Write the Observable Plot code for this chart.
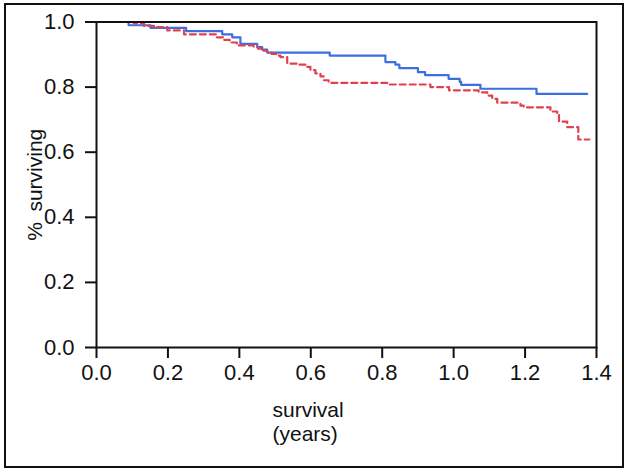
<!DOCTYPE html>
<html>
<head>
<meta charset="utf-8">
<script src="https://cdn.jsdelivr.net/npm/d3@7"></script>
<script src="https://cdn.jsdelivr.net/npm/@observablehq/plot@0.6"></script>
<style>
  html, body { margin: 0; padding: 0; background: #fff; }
  #wrap { position: relative; width: 629px; height: 473px; }
  #border { position: absolute; left: 4px; top: 3px; width: 620px; height: 465px; box-sizing: border-box; border: 2px solid #111; pointer-events: none; }
  #chart svg { display: block; }
</style>
</head>
<body>
<div id="wrap"><div id="chart"></div><div id="border"></div></div>
<script>
// Kaplan-Meier style survival curves
const blueTimes = [0.086, 0.090, 0.151, 0.251, 0.352, 0.380, 0.403, 0.450, 0.464, 0.478, 0.653, 0.809, 0.837, 0.848, 0.900, 0.920, 0.986, 1.017, 1.021, 1.075, 1.232, 1.374];
const blueSurv  = [1.0, 0.990, 0.982, 0.972, 0.962, 0.953, 0.933, 0.923, 0.915, 0.906, 0.897, 0.877, 0.869, 0.858, 0.846, 0.837, 0.825, 0.816, 0.807, 0.795, 0.779, 0.779];

const redTimes = [0.100, 0.104, 0.133, 0.161, 0.198, 0.245, 0.337, 0.355, 0.373, 0.393, 0.440, 0.452, 0.465, 0.478, 0.490, 0.503, 0.515, 0.534, 0.562, 0.585, 0.599, 0.613, 0.627, 0.636, 0.650, 0.814, 0.935, 0.987, 1.070, 1.094, 1.108, 1.122, 1.187, 1.196, 1.271, 1.290, 1.295, 1.318, 1.349, 1.380];
const redSurv  = [1.0, 0.996, 0.988, 0.984, 0.974, 0.962, 0.953, 0.945, 0.937, 0.928, 0.923, 0.918, 0.912, 0.907, 0.902, 0.897, 0.892, 0.872, 0.869, 0.862, 0.852, 0.842, 0.833, 0.821, 0.813, 0.808, 0.800, 0.790, 0.784, 0.774, 0.764, 0.752, 0.743, 0.738, 0.725, 0.718, 0.694, 0.677, 0.639, 0.639];

const xTicks = [0, 0.2, 0.4, 0.6, 0.8, 1.0, 1.2, 1.4];
const yTicks = [0, 0.2, 0.4, 0.6, 0.8, 1.0];
const xLabel = "survival\n(years)";
const yLabel = "%\u2002surviving";

const blueData = blueTimes.map((t, i) => ({t, s: blueSurv[i]}));
const redData = redTimes.map((t, i) => ({t, s: redSurv[i]}));

const fmt = d3.format(".1f");
const fontSize = 21;
const tickFont = 22;

const chart = Plot.plot({
  width: 629,
  height: 473,
  marginLeft: 96,
  marginRight: 33,
  marginTop: 21.5,
  marginBottom: 126,
  style: { fontFamily: "'Liberation Sans', Arial, Helvetica, sans-serif", fontSize: fontSize + "px", color: "#111", background: "white" },
  x: { domain: [0, 1.4] },
  y: { domain: [0, 1] },
  marks: [
    Plot.lineY(blueData, { x: "t", y: "s", curve: "step-after", stroke: "#3d6fe0", strokeWidth: 2.2 }),
    Plot.lineY(redData, { x: "t", y: "s", curve: "step-after", stroke: "#e0414f", strokeWidth: 2.2, strokeDasharray: "6,4" }),
    Plot.frame({ stroke: "#111", strokeWidth: 2 }),
    Plot.axisX({ ticks: xTicks, tickFormat: fmt, tickSize: 11, tickPadding: 6, strokeWidth: 2, stroke: "#111", fill: "#111", fontSize: tickFont, label: null }),
    Plot.axisY({ ticks: yTicks, tickFormat: fmt, tickSize: 11, tickPadding: 11, strokeWidth: 2, stroke: "#111", fill: "#111", fontSize: tickFont, label: null }),
    Plot.text([xLabel], { text: d => d, frameAnchor: "bottom-left", textAnchor: "start", lineAnchor: "top", dx: 176, dy: 52, lineHeight: 1.15, fontSize, fill: "#111" }),
    Plot.text([yLabel], { text: d => d, frameAnchor: "left", rotate: -90, textAnchor: "middle", lineAnchor: "middle", dx: -61, fontSize, fill: "#111" })
  ]
});
document.getElementById("chart").appendChild(chart);
</script>
</body>
</html>
